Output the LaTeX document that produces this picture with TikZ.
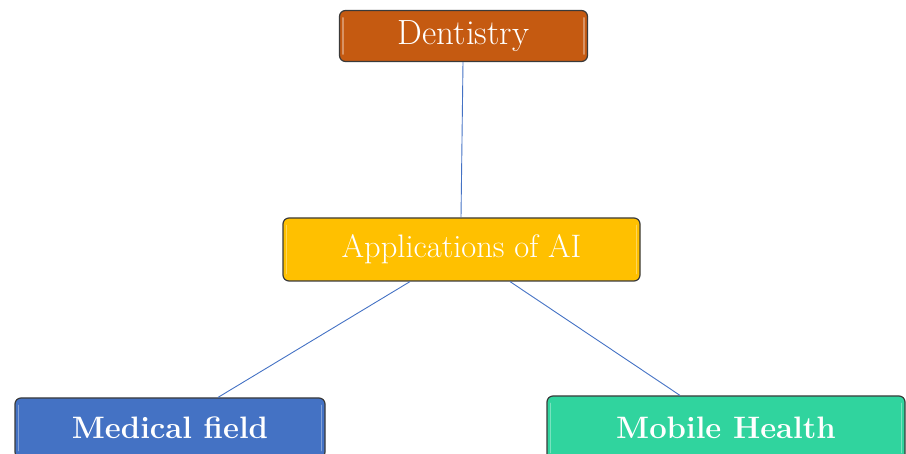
\documentclass[tikz,border=0pt]{standalone}
\usetikzlibrary{calc}
\definecolor{dentc}{HTML}{C55A11}
\definecolor{aic}{HTML}{FFC000}
\definecolor{medc}{HTML}{4472C4}
\definecolor{mobc}{HTML}{30D49E}
\definecolor{linec}{HTML}{4472C4}
\definecolor{edgec}{HTML}{3A3A3A}
\tikzset{
  box/.style={draw=edgec, line width=1.2pt, rounded corners=6pt, text=white, inner sep=0pt, align=center},
  conn/.style={draw=linec, line width=0.9pt},
  shine/.style={draw=white, opacity=0.35, line width=1.6pt, line cap=round}
}
\begin{document}
\begin{tikzpicture}[x=1pt,y=-1pt]
\useasboundingbox (0,0) rectangle (906,454);
\clip (0,0) rectangle (906,454);
\node[box, fill=dentc, minimum width=248pt, minimum height=51pt, font=\fontsize{35}{40}\selectfont] (dent) at (463.5,36) {Dentistry};
\node[box, fill=aic, minimum width=357pt, minimum height=63pt, font=\fontsize{32.5}{38}\selectfont] (ai) at (461.5,249.5) {Applications of AI};
\node[box, fill=medc, minimum width=310pt, minimum height=60pt, font=\fontsize{31}{36}\selectfont\bfseries] (med) at (170,428) {Medical field};
\node[box, fill=mobc, minimum width=358pt, minimum height=64pt, font=\fontsize{31}{36}\selectfont\bfseries] (mob) at (726,428) {Mobile Health};
\foreach \n in {dent,ai,med,mob}{
  \draw[shine] ([xshift=4pt,yshift=-8pt]\n.north west) -- ([xshift=4pt,yshift=8pt]\n.south west);
  \draw[shine] ([xshift=-4pt,yshift=-8pt]\n.north east) -- ([xshift=-4pt,yshift=8pt]\n.south east);
}
\draw[conn] ([xshift=-0.5pt]dent.south) -- ([xshift=-0.5pt]ai.north);
\draw[conn] ([xshift=-51.5pt]ai.south) -- ([xshift=48pt]med.north);
\draw[conn] ([xshift=48.5pt]ai.south) -- ([xshift=-46pt]mob.north);
\end{tikzpicture}
\end{document}
